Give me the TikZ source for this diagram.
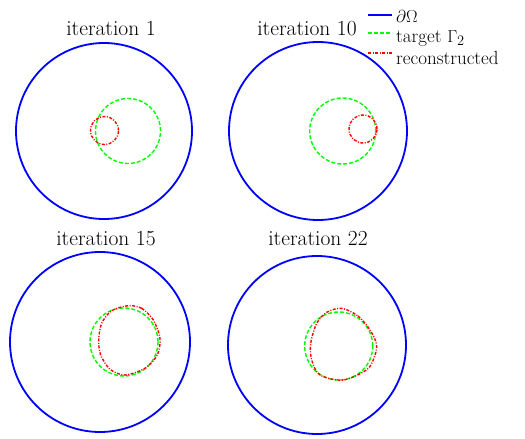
\documentclass[tikz,border=0pt]{standalone}
\begin{document}
\begin{tikzpicture}[x=1pt,y=-1pt,
  bnd/.style={blue,line width=1.8pt},
  tgt/.style={green,line width=1.4pt,dash pattern=on 4pt off 2pt},
  rec/.style={red,line width=1.4pt,dash pattern=on 3pt off 1.5pt on 1pt off 1.5pt},
  ttl/.style={anchor=base,font=\fontsize{21.5}{24}\selectfont,inner sep=0pt},
  lgd/.style={anchor=base west,font=\fontsize{19}{21}\selectfont,inner sep=0pt,
    text height=11pt,text depth=2pt}]
\useasboundingbox (0,0) rectangle (525,439);
\def\panel#1#2#3#4#5#6#7{
\draw[bnd] (#1,#2) circle (#3pt);
\node[ttl] (#4) at (#5,#6) {#7};
}
\panel{104}{131}{88}{t1}{111}{35}{iteration 1}
\panel{318}{131}{89}{t10}{307}{35}{iteration 10}
\panel{100}{342}{90}{t15}{106}{245}{iteration 15}
\panel{317}{345}{89}{t22}{318}{245}{iteration 22}
\draw[tgt] (128,131) circle (32.5pt);
\draw[rec] (104.5,130.5) circle (14pt);
\draw[tgt] (342.7,131) circle (33pt);
\draw[rec] (363,129) circle (14pt);
\draw[tgt] (124,342) circle (34pt);
\draw[rec] plot[smooth cycle] coordinates {(128.3,305.7) (141.7,308.3) (153.3,320) (160,338.3)
  (157.3,355) (145,368.3) (125,375) (110,369.3) (100.7,355) (98.7,340) (101.7,323.3) (111.7,310.7)};
\draw[tgt] (338.7,346) circle (34pt);
\draw[rec] plot[smooth cycle] coordinates {(341.7,308.3) (358,316) (370,330) (376.7,346.7)
  (368.3,368.3) (343.3,380) (320,375) (311.7,360) (310.7,343.3) (316.7,323.3) (326.7,312.3)};
\coordinate (l1a) at (368,15); \coordinate (l1b) at (392,15);
\coordinate (l2a) at (368,33); \coordinate (l2b) at (392,33);
\coordinate (l3a) at (368,53); \coordinate (l3b) at (392,53);
\draw[bnd] (l1a) -- (l1b);
\draw[tgt] (l2a) -- (l2b);
\draw[rec] (l3a) -- (l3b);
\node[lgd] (lg1) at (396,23) {$\partial\Omega$};
\node[lgd] (lg2) at (396,42.5) {target $\Gamma_2$};
\node[lgd] (lg3) at (396,64) {reconstructed};
\end{tikzpicture}
\end{document}
